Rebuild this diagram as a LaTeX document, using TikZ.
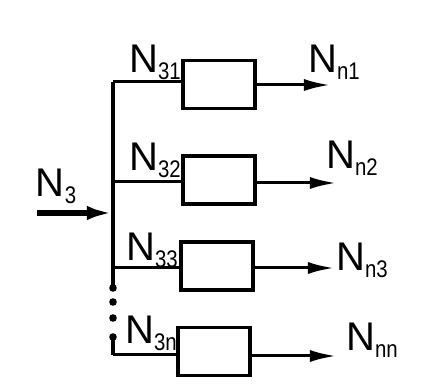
\documentclass[tikz,border=0pt]{standalone}
\usepackage{fontspec}
\setmainfont{Liberation Sans}
\usetikzlibrary{arrows.meta}
\newcommand\Nlab[1]{{\fontsize{20}{20}\selectfont N}\raisebox{-3.5pt}{\scalebox{0.85}[1]{\fontsize{12}{12}\selectfont #1}}}
\tikzset{
  blk/.style={draw, line width=1.9pt, minimum width=36pt, minimum height=24pt, inner sep=0pt},
  wire/.style={line width=1.5pt},
  bus/.style={line width=1.9pt},
  outarrow/.style={line width=1.5pt, -{Latex[length=13pt,width=6pt]}},
  inarrow/.style={line width=2.8pt, -{Latex[length=13pt,width=7pt]}},
  lab/.style={inner sep=0pt},
  dotpt/.style={circle, fill, inner sep=0pt, minimum size=3.8pt}
}
\begin{document}
\begin{tikzpicture}[x=0.5pt,y=-0.5pt]
\useasboundingbox[fill=white] (0,0) rectangle (447,390);
% boxes
\node[blk] (b1) at (219,84.5) {};
\node[blk] (b2) at (219,180) {};
\node[blk] (b3) at (217,266) {};
\node[blk] (b4) at (214,351.5) {};
% bus coordinates
\coordinate (j1) at (113,82);
\coordinate (j2) at (113,182);
\coordinate (j3) at (113,268);
\coordinate (jin) at (113,213);
\coordinate (j4) at (113,355);
\node[dotpt] (d1) at (113,288) {};
\node[dotpt] (d2) at (113,302) {};
\node[dotpt] (d3) at (113,318) {};
\node[dotpt] (d4) at (113,337) {};
\coordinate (in) at (37,213);
% outputs
\coordinate (o1) at (330,85);
\coordinate (o2) at (336,183);
\coordinate (o3) at (334,268);
\coordinate (o4) at (336,356);
% bus
\draw[bus] (j1) -- (d1.center);
\draw[bus] (d4.center) -- (j4);
% branches
\draw[wire] (j1) -- (j1 -| b1.west);
\draw[wire] (j2) -- (j2 -| b2.west);
\draw[wire] (j3) -- (j3 -| b3.west);
\draw[wire] (j4) -- (j4 -| b4.west);
% input
\draw[inarrow] (in) -- (jin);
% output arrows
\draw[outarrow] (b1.east |- o1) -- (o1);
\draw[outarrow] (b2.east |- o2) -- (o2);
\draw[outarrow] (b3.east |- o3) -- (o3);
\draw[outarrow] (b4.east |- o4) -- (o4);
% labels
\node[lab] (l3) at (56,186) {\Nlab{3}};
\node[lab] (l31) at (155,62) {\Nlab{31}};
\node[lab] (l32) at (155,160) {\Nlab{32}};
\node[lab] (l33) at (152,250) {\Nlab{33}};
\node[lab] (l3n) at (151,333) {\Nlab{3n}};
\node[lab] (ln1) at (334,62) {\Nlab{n1}};
\node[lab] (ln2) at (352,158) {\Nlab{n2}};
\node[lab] (ln3) at (362,260) {\Nlab{n3}};
\node[lab] (lnn) at (372,340) {\Nlab{nn}};
\end{tikzpicture}
\end{document}
